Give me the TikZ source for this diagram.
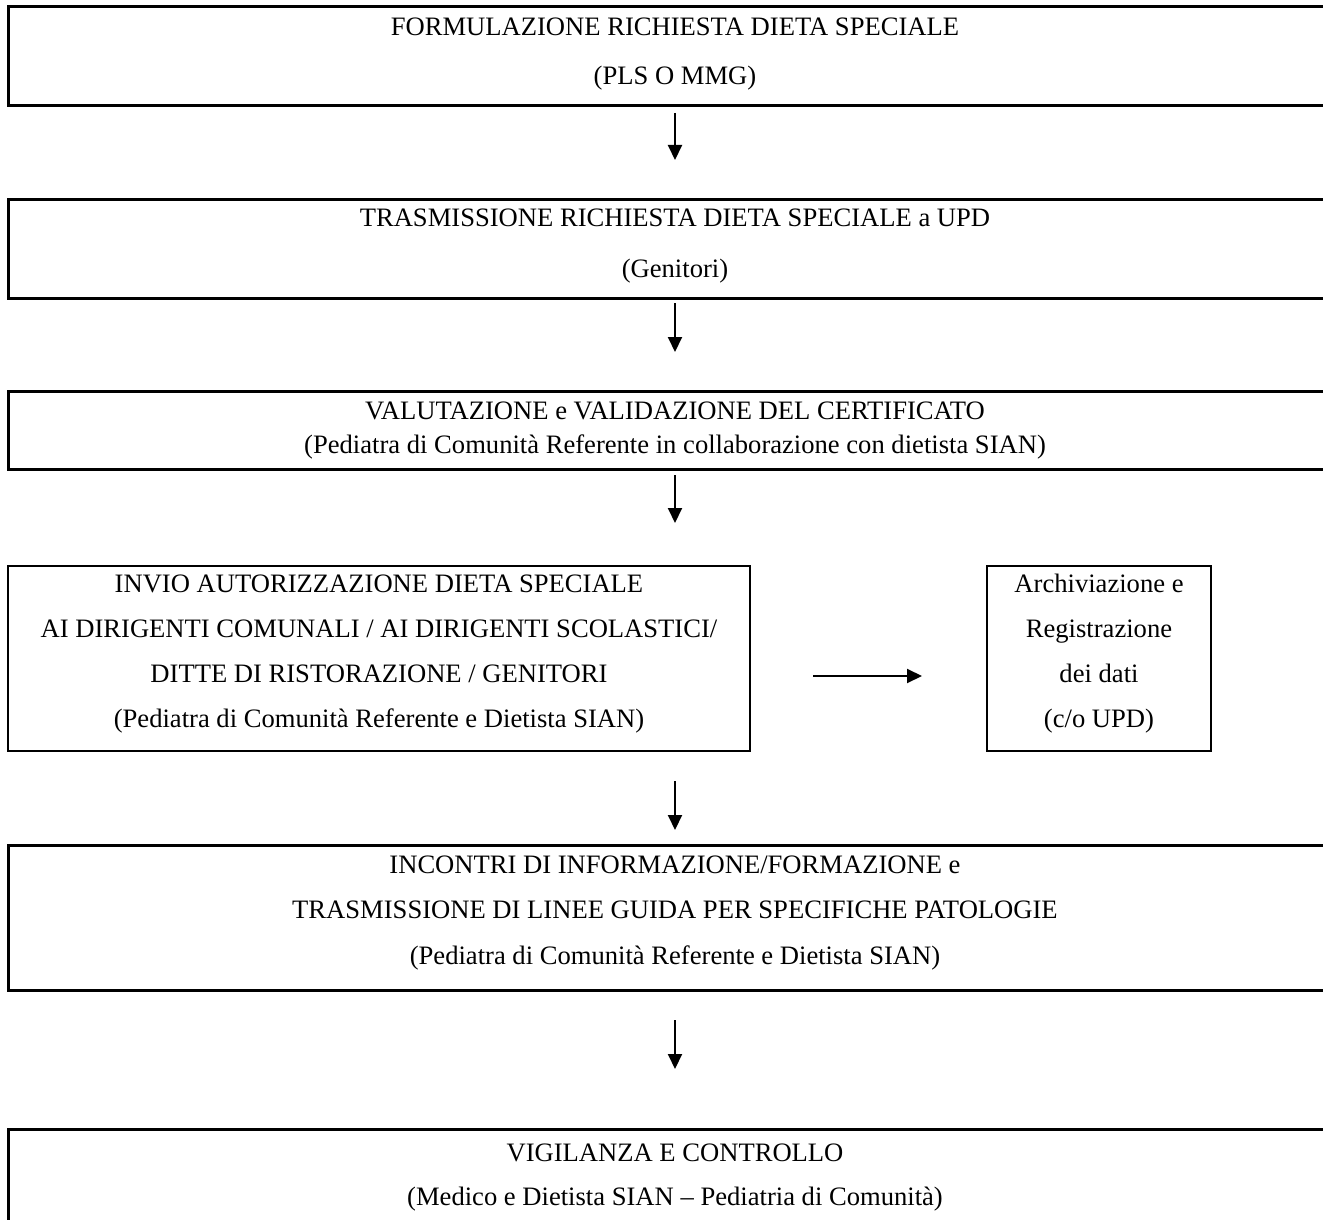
\documentclass[tikz,border=0pt]{standalone}
\usepackage{fontspec}
\setmainfont{Liberation Serif}
\usetikzlibrary{arrows.meta}
\begin{document}
\begin{tikzpicture}[x=0.5pt,y=-0.5pt,
  box/.style={draw, line width=1.5pt, inner sep=0pt, outer sep=0pt, anchor=north west},
  thinbox/.style={box, line width=1pt},
  txt/.style={font=\fontsize{13.3pt}{16pt}\selectfont, inner sep=0pt, anchor=base},
  arr/.style={line width=1pt, -{Triangle[length=7.5pt,width=7pt]}}]
\useasboundingbox (0,0) rectangle (1323,1220);
\fill[white] (0,0) rectangle (1323,1220);
% boxes
\node[box, minimum width=667pt, minimum height=49.5pt] (b1) at (8,7) {};
\node[box, minimum width=667pt, minimum height=49.5pt] (b2) at (8,199) {};
\node[box, minimum width=667pt, minimum height=39pt] (b3) at (8,391) {};
\node[thinbox, minimum width=371pt, minimum height=92.5pt] (b4) at (8,566) {};
\node[thinbox, minimum width=112pt, minimum height=92.5pt] (b5) at (987,566) {};
\node[box, minimum width=667pt, minimum height=72.5pt] (b6) at (8,845) {};
\node[box, minimum width=667pt, minimum height=60pt] (b7) at (8,1129) {};
% texts
\node[txt] (t1a) at (675,36) {FORMULAZIONE RICHIESTA DIETA SPECIALE};
\node[txt] (t1b) at (675,85) {(PLS O MMG)};
\node[txt] (t2a) at (675,227) {TRASMISSIONE RICHIESTA DIETA SPECIALE a UPD};
\node[txt] (t2b) at (675,277) {(Genitori)};
\node[txt] (t3a) at (675,419) {VALUTAZIONE e VALIDAZIONE DEL CERTIFICATO};
\node[txt] (t3b) at (675,453) {(Pediatra di Comunità Referente in collaborazione con dietista SIAN)};
\node[txt] (t4a) at (379,592) {INVIO AUTORIZZAZIONE DIETA SPECIALE};
\node[txt] (t4b) at (379,637) {AI DIRIGENTI COMUNALI / AI DIRIGENTI SCOLASTICI/};
\node[txt] (t4c) at (379,682) {DITTE DI RISTORAZIONE / GENITORI};
\node[txt] (t4d) at (379,727) {(Pediatra di Comunità Referente e Dietista SIAN)};
\node[txt] (t5a) at (1099,592) {Archiviazione e};
\node[txt] (t5b) at (1099,637) {Registrazione};
\node[txt] (t5c) at (1099,682) {dei dati};
\node[txt] (t5d) at (1099,727) {(c/o UPD)};
\node[txt] (t6a) at (675,873) {INCONTRI DI INFORMAZIONE/FORMAZIONE e};
\node[txt] (t6b) at (675,918) {TRASMISSIONE DI LINEE GUIDA PER SPECIFICHE PATOLOGIE};
\node[txt] (t6c) at (675,964) {(Pediatra di Comunità Referente e Dietista SIAN)};
\node[txt] (t7a) at (675,1161) {VIGILANZA E CONTROLLO};
\node[txt] (t7b) at (675,1205) {(Medico e Dietista SIAN – Pediatria di Comunità)};
% connectors
\coordinate (a1s) at (675,113); \coordinate (a1e) at (675,160);
\coordinate (a2s) at (675,303); \coordinate (a2e) at (675,352);
\coordinate (a3s) at (675,475); \coordinate (a3e) at (675,523);
\coordinate (a4s) at (675,781); \coordinate (a4e) at (675,830);
\coordinate (a5s) at (675,1020); \coordinate (a5e) at (675,1069);
\coordinate (ahs) at (813,676); \coordinate (ahe) at (922,676);
\draw[arr] (a1s) -- (a1e);
\draw[arr] (a2s) -- (a2e);
\draw[arr] (a3s) -- (a3e);
\draw[arr] (a4s) -- (a4e);
\draw[arr] (a5s) -- (a5e);
\draw[arr] (ahs) -- (ahe);
\end{tikzpicture}
\end{document}
